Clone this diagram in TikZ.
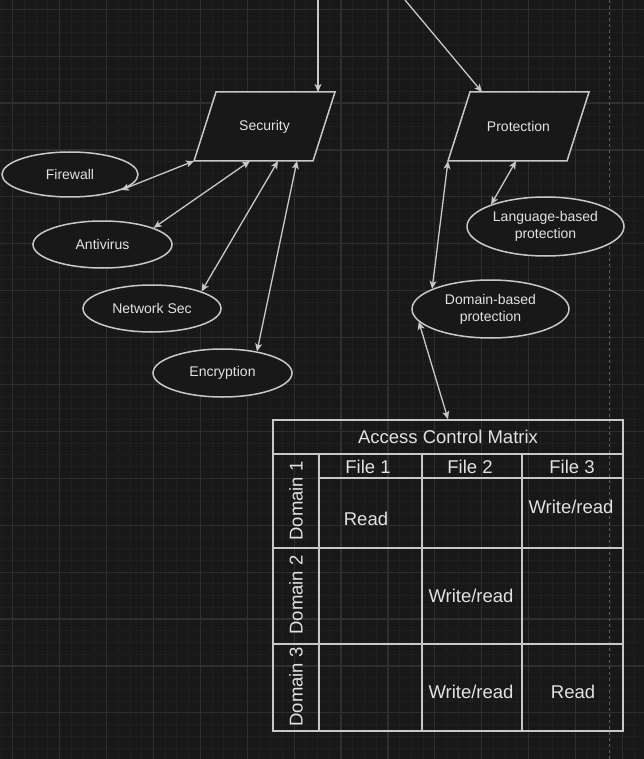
\documentclass[tikz,border=0pt]{standalone}
\usepackage{fontspec}
\setmainfont{Liberation Sans}
\usetikzlibrary{arrows.meta,shapes.geometric}
\definecolor{bg}{HTML}{181818}
\definecolor{gmaj}{HTML}{2E2E2E}
\definecolor{gmin}{HTML}{262626}
\definecolor{ln}{HTML}{C8C8C8}
\definecolor{tx}{HTML}{E2E2E2}
\definecolor{pg}{HTML}{5A5A5A}
\newcommand\mysmallfont{\fontsize{14}{16.8}\selectfont}
\newcommand\mybigfont{\fontsize{18.5}{22}\selectfont}
\tikzset{
  shapeline/.style={draw=ln, line width=1.5pt, fill=bg},
  ell/.style={shapeline, ellipse, inner sep=0pt, text=tx, font=\mysmallfont, align=center},
  lbl/.style={text=tx, font=\mysmallfont, align=center, inner sep=0pt},
  tbl/.style={text=tx, font=\mybigfont, inner sep=0pt},
  tip/.style={},
  conn/.style={draw=ln, line width=1.3pt, {Stealth[length=8pt,width=7pt,inset=2pt]}-{Stealth[length=8pt,width=7pt,inset=2pt]}},
  oneway/.style={draw=ln, line width=1.3pt, -{Stealth[length=8pt,width=7pt,inset=2pt]}},
  tline/.style={draw=ln, line width=1.5pt},
  minorgrid/.style={gmin, line width=0.8pt, dash pattern=on 1pt off 1pt},
  majorgrid/.style={gmaj, line width=1.2pt},
  pageline/.style={pg, line width=1pt, dash pattern=on 3pt off 3pt}
}
\begin{document}
\begin{tikzpicture}[x=1pt,y=-1pt]
\useasboundingbox (0,0) rectangle (644,759);
% background grid
\fill[bg] (0,0) rectangle (644,759);
\foreach \i in {0,...,55} {\draw[minorgrid] ({0.975+11.725*\i},0) -- ++(0,759);}
\foreach \i in {0,...,65} {\draw[minorgrid] (0,{-2.425+11.725*\i}) -- ++(644,0);}
\foreach \i in {0,...,13} {\draw[majorgrid] ({12.7+46.9*\i},0) -- ++(0,759);}
\foreach \i in {0,...,16} {\draw[majorgrid] (0,{9.3+46.9*\i}) -- ++(644,0);}
\draw[pageline] (609,0) -- (609,759);

% Security parallelogram
\coordinate (secBL) at (194,161); \coordinate (secBR) at (313,161);
\coordinate (secTR) at (335,92);  \coordinate (secTL) at (216,92);
\draw[shapeline] (secBL) -- (secBR) -- (secTR) -- (secTL) -- cycle;
\node[lbl] (sec) at (264.5,126.5) {Security};

% Protection parallelogram
\coordinate (proBL) at (448,161); \coordinate (proBR) at (567,161);
\coordinate (proTR) at (589,92);  \coordinate (proTL) at (470,92);
\draw[shapeline] (proBL) -- (proBR) -- (proTR) -- (proTL) -- cycle;
\node[lbl] (pro) at (518.5,126.5) {Protection};

% ellipses
\node[ell, minimum width=136pt, minimum height=45pt] (fw) at (70,174.5) {Firewall};
\node[ell, minimum width=139pt, minimum height=47pt] (av) at (102.5,244.5) {Antivirus};
\node[ell, minimum width=138pt, minimum height=47pt] (ns) at (152,308.5) {Network Sec};
\node[ell, minimum width=139pt, minimum height=48pt] (enc) at (222.5,373) {Encryption};
\node[ell, minimum width=157pt, minimum height=59pt] (lang) at (545.5,226.5) {Language-based\\protection};
\node[ell, minimum width=157pt, minimum height=58pt] (dom) at (490.5,309) {Domain-based\\protection};

% table
\node[tline, minimum width=350pt, minimum height=34pt, inner sep=0pt, text=tx, font=\mybigfont] (title) at (448,437) {Access Control Matrix};
\draw[tline] (273,454) rectangle (623,731);
\draw[tline] (319,454) -- (319,731);
\draw[tline] (422,454) -- (422,731);
\draw[tline] (522,454) -- (522,731);
\draw[tline] (319,478) -- (623,478);
\draw[tline] (273,548) -- (623,548);
\draw[tline] (273,644) -- (623,644);
\node[tbl] (f1) at (368,467) {File 1};
\node[tbl] (f2) at (470,467) {File 2};
\node[tbl] (f3) at (572,467) {File 3};
\node[tbl, rotate=90] (d1) at (296,501) {Domain 1};
\node[tbl, rotate=90] (d2) at (296,595) {Domain 2};
\node[tbl, rotate=90] (d3) at (296,687) {Domain 3};
\node[tbl] (c11) at (366,519) {Read};
\node[tbl] (c13) at (571,507) {Write/read};
\node[tbl] (c22) at (471,596) {Write/read};
\node[tbl] (c32) at (471,692) {Write/read};
\node[tbl] (c33) at (573,692) {Read};

% connectors
\coordinate (inSec) at (318,0);  \coordinate (secTop) at (318,92);
\coordinate (inPro) at (405,0);  \coordinate (proTop) at (482,92);
\draw[oneway] (inSec) -- (secTop);
\draw[oneway] (inPro) -- (proTop);
\coordinate (s2) at (250,161); \coordinate (s3) at (278,161); \coordinate (s4) at (297,161);
\coordinate (p2) at (516,161);
\draw[conn] (fw.-17) -- (secBL);
\draw[conn] (av.18) -- (s2);
\draw[conn] (ns.19) -- (s3);
\draw[conn] (enc.32) -- (s4);
\draw[conn] (lang.158) -- (p2);
\draw[conn] (dom.161) -- (proBL);
\draw[conn] (dom.190) -- (title.north);
\end{tikzpicture}
\end{document}
